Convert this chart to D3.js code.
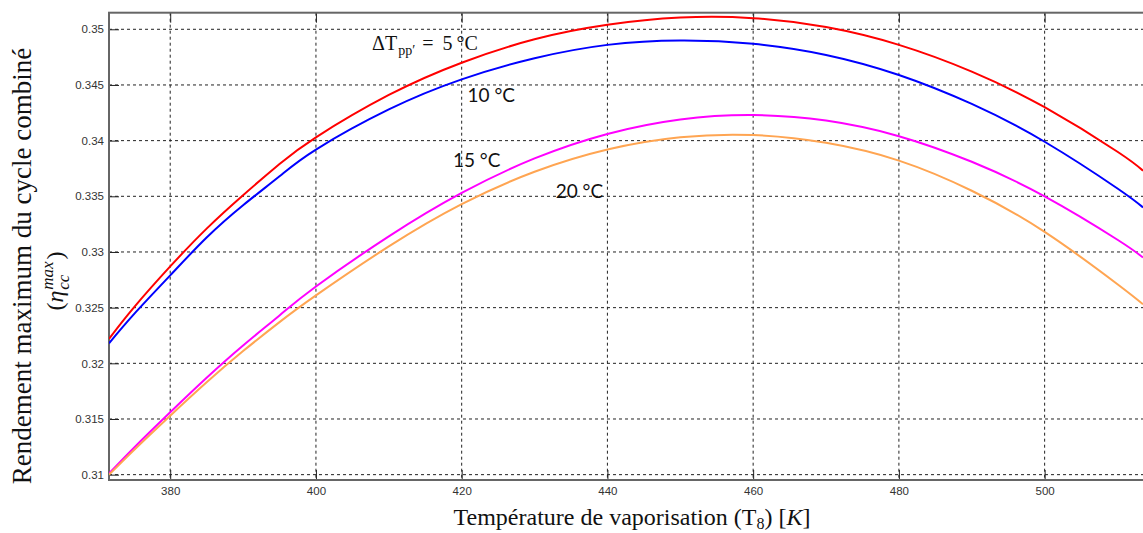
<!DOCTYPE html>
<html>
<head>
<meta charset="utf-8">
<script src="https://cdn.jsdelivr.net/npm/d3@7"></script>
<style>
    body { margin: 0; background: #fff; }
    svg { display: block; }
    .tick text { font-family: "Liberation Sans", Arial, sans-serif; font-size: 11.5px; fill: #333; }
    .tick line { stroke: #222; stroke-width: 1; }
    .grid line { stroke: #222; stroke-width: 1; stroke-dasharray: 3,3; }
    .curve { fill: none; stroke-width: 2; }
    .note { font-family: Lato, "Open Sans", sans-serif; font-size: 19px; fill: #111; }
    .serif { font-family: "Liberation Serif", "Times New Roman", serif; fill: #111; }
</style>
</head>
<body>
<div id="chart"></div>
<script>
// vaporisation temperature T8 [K]
var temps = [371.6, 375, 380, 385, 390, 395, 400, 410, 420, 430, 440, 450, 460, 470, 480, 490, 500, 510, 513.5];

// max combined cycle efficiency for each pinch ΔT
var dT5  = [0.3222, 0.3250, 0.3287, 0.3321, 0.3351, 0.3379, 0.3403, 0.3441, 0.3470, 0.3491, 0.3504, 0.35105, 0.3510, 0.3502, 0.3486, 0.3462, 0.3430, 0.3390, 0.3373];
var dT10 = [0.3218, 0.3244, 0.3279, 0.3313, 0.3342, 0.3368, 0.3392, 0.3428, 0.3455, 0.3474, 0.3486, 0.3490, 0.3487, 0.3477, 0.3459, 0.3433, 0.3399, 0.3357, 0.3340];
var dT15 = [0.3101, 0.3124, 0.3156, 0.3187, 0.3216, 0.3243, 0.3269, 0.3314, 0.3353, 0.3384, 0.3406, 0.3419, 0.3423, 0.3418, 0.3404, 0.3381, 0.3350, 0.3311, 0.3295];
var dT20 = [0.3100, 0.3122, 0.3153, 0.3183, 0.3211, 0.3237, 0.3261, 0.3305, 0.3343, 0.3372, 0.3392, 0.3403, 0.3405, 0.3398, 0.3382, 0.3355, 0.3318, 0.3271, 0.3253];

var xTicks = [380, 400, 420, 440, 460, 480, 500];
var yTicks = [0.31, 0.315, 0.32, 0.325, 0.33, 0.335, 0.34, 0.345, 0.35];
var yTickLabels = ["0.31", "0.315", "0.32", "0.325", "0.33", "0.335", "0.34", "0.345", "0.35"];

var W = 1143, H = 533;
var m = {left: 109, right: 1143, top: 12.7, bottom: 480};

var svg = d3.select("#chart").append("svg")
        .attr("width", W)
        .attr("height", H);

var x = d3.scaleLinear().domain([371.6, 513.5]).range([m.left, m.right]);
var y = d3.scaleLinear().domain([0.30952, 0.35149]).range([m.bottom, m.top]);

svg.append("clipPath").attr("id", "plot")
    .append("rect")
    .attr("x", m.left).attr("y", m.top)
    .attr("width", m.right - m.left).attr("height", m.bottom - m.top);

// dashed grid
svg.append("g").attr("class", "grid")
    .selectAll("line").data(xTicks).enter().append("line")
    .attr("x1", function(d) { return x(d); }).attr("x2", function(d) { return x(d); })
    .attr("y1", m.top).attr("y2", m.bottom);

svg.append("g").attr("class", "grid")
    .selectAll("line").data(yTicks).enter().append("line")
    .attr("x1", m.left).attr("x2", m.right)
    .attr("y1", function(d) { return y(d); }).attr("y2", function(d) { return y(d); });

// inward ticks + labels
var xAxis = svg.append("g")
        .attr("transform", "translate(0," + m.bottom + ")")
        .call(d3.axisBottom(x).tickValues(xTicks).tickSize(-10).tickPadding(7));
xAxis.select(".domain").remove();

var xTop = svg.append("g")
        .attr("transform", "translate(0," + m.top + ")")
        .call(d3.axisTop(x).tickValues(xTicks).tickSize(-10).tickFormat(""));
xTop.select(".domain").remove();

var yAxis = svg.append("g")
        .attr("transform", "translate(" + m.left + ",0)")
        .call(d3.axisLeft(y).tickValues(yTicks).tickSize(-10).tickPadding(5)
            .tickFormat(function(d, i) { return yTickLabels[i]; }));
yAxis.select(".domain").remove();

// frame
svg.append("rect")
    .attr("x", m.left).attr("y", m.top)
    .attr("width", m.right - m.left + 4).attr("height", m.bottom - m.top)
    .attr("fill", "none")
    .attr("stroke", "#666")
    .attr("stroke-width", 2);

// curves
var series = [
    {values: dT5, color: "#ff0000"},
    {values: dT10, color: "#0000ff"},
    {values: dT15, color: "#ff00ff"},
    {values: dT20, color: "#ffa552"}
];

var line = d3.line()
        .x(function(d) { return x(d[0]); })
        .y(function(d) { return y(d[1]); })
        .curve(d3.curveNatural);

var curves = svg.append("g").attr("clip-path", "url(#plot)");
series.forEach(function(s) {
    curves.append("path")
        .datum(temps.map(function(t, i) { return [t, s.values[i]]; }))
        .attr("class", "curve")
        .attr("stroke", s.color)
        .attr("d", line);
});

// curve annotations
var dt = svg.append("text").attr("class", "serif")
        .attr("x", x(407.7)).attr("y", y(0.34814))
        .style("font-size", "20px");
dt.append("tspan").text("ΔT");
dt.append("tspan").attr("dy", 5).attr("dx", 1).style("font-size", "14px").text("pp′");
dt.append("tspan").attr("dy", -5).attr("dx", 7).text("=");
dt.append("tspan").attr("dx", 9).text("5");
dt.append("tspan").attr("dx", 4).text("°C");

svg.append("text").attr("class", "note").attr("x", x(420.8)).attr("y", y(0.3435)).text("10 °C");
svg.append("text").attr("class", "note").attr("x", x(418.8)).attr("y", y(0.33766)).text("15 °C");
svg.append("text").attr("class", "note").attr("x", x(432.9)).attr("y", y(0.33486)).text("20 °C");

// x label
var xl = svg.append("text").attr("class", "serif")
        .attr("x", 632).attr("y", 525)
        .attr("text-anchor", "middle")
        .style("font-size", "24px");
xl.append("tspan").text("Température de vaporisation (T");
xl.append("tspan").attr("dy", 4).style("font-size", "16px").text("8");
xl.append("tspan").attr("dy", -4).text(") [");
xl.append("tspan").style("font-style", "italic").text("K");
xl.append("tspan").text("]");

// y label, line 1
svg.append("text").attr("class", "serif")
    .attr("transform", "translate(31,266) rotate(-90)")
    .attr("text-anchor", "middle")
    .style("font-size", "27px")
    .text("Rendement maximum du cycle combiné");

// y label, line 2: (η_cc^max)
var eg = svg.append("g").attr("transform", "translate(63,281) rotate(-90)");
var t1 = eg.append("text").attr("class", "serif").style("font-size", "24px");
t1.append("tspan").text("(");
t1.append("tspan").style("font-style", "italic").text("η");
var w1 = t1.node().getComputedTextLength();
var sup = eg.append("text").attr("class", "serif").attr("x", w1 + 1).attr("y", -10)
        .style("font-size", "17px").style("font-style", "italic").text("max");
var sub = eg.append("text").attr("class", "serif").attr("x", w1 + 1).attr("y", 6)
        .style("font-size", "17px").style("font-style", "italic").text("cc");
var w2 = Math.max(sup.node().getComputedTextLength(), sub.node().getComputedTextLength());
var t3 = eg.append("text").attr("class", "serif").attr("x", w1 + w2 + 3)
        .style("font-size", "24px").text(")");
var total = w1 + w2 + 3 + t3.node().getComputedTextLength();
eg.selectAll("text").attr("transform", "translate(" + (-total / 2) + ",0)");
</script>
</body>
</html>
